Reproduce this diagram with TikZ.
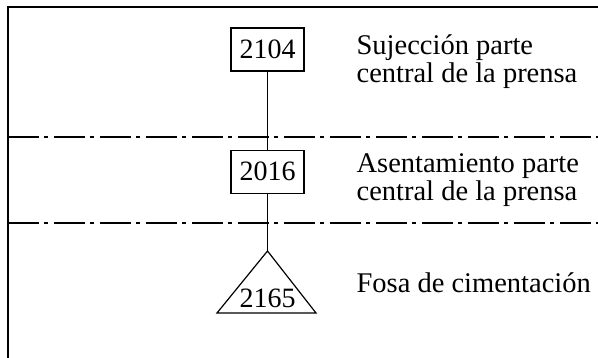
\documentclass[tikz,border=0pt]{standalone}
\usepackage{fontspec}
\setmainfont{Liberation Serif}
\usetikzlibrary{positioning}

\begin{document}
\begin{tikzpicture}[x=1pt, y=-1pt, line width=1.2pt,
  font=\fontsize{28}{28}\selectfont,
  box/.style={draw, minimum width=73pt, minimum height=43pt, inner sep=0pt},
  txt/.style={align=left, anchor=base west, inner sep=0pt,
    font=\fontsize{28.5}{28}\selectfont},
  axis/.style={dash pattern=on 31pt off 5pt on 4pt off 6pt}]

\useasboundingbox (0,0) rectangle (598,358);

\draw (8,358) -- (8,7) -- (598,7);
\draw[axis] (8,137) -- (598,137);
\draw[axis] (8,223) -- (598,223);

\node[box] (1) at (267.5,49.5) {2104};
\node[box, below=78pt of 1] (2) {2016};
\coordinate (3) at (267.5,251);
\draw (3) -- (217,313) -- (316,313) -- cycle;
\node[anchor=base, inner sep=0pt] (4) at (267.5,308) {2165};

\draw (1) -- (2);
\draw (2) -- (3);

% base of a two-line node = last line
\node[txt] (a) at (356,83) {Sujección parte\\central de la prensa};
\node[txt] (b) at (356,200.5) {Asentamiento parte\\central de la prensa};
\node[txt] (c) at (356,293) {Fosa de cimentación};

\end{tikzpicture}
\end{document}
